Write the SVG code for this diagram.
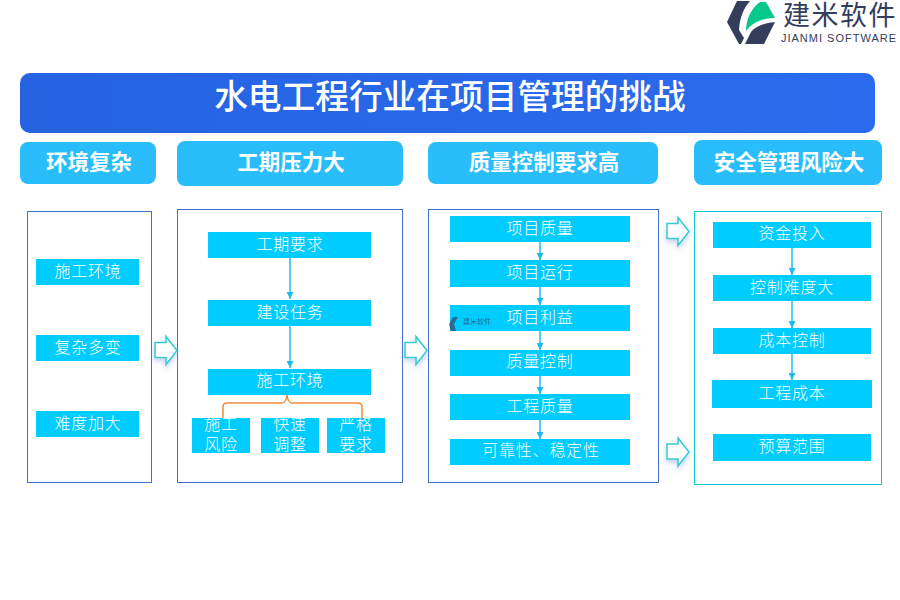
<svg xmlns="http://www.w3.org/2000/svg" width="900" height="600" viewBox="0 0 900 600">
<defs>
<linearGradient id="tg" x1="0" y1="0" x2="1" y2="0"><stop offset="0" stop-color="#2563e0"/><stop offset="1" stop-color="#2b6cee"/></linearGradient>
<filter id="sh" x="-40%" y="-40%" width="180%" height="200%"><feDropShadow dx="0" dy="3" stdDeviation="2.500" flood-color="#9fb4e0" flood-opacity="0.6"/></filter>
<marker id="ah" markerUnits="userSpaceOnUse" markerWidth="8" markerHeight="7" refX="7" refY="3.500" orient="auto"><path d="M0 0L7 3.500L0 7Z" fill="#1cbcf0"/></marker>
<path id="blk" d="M0 6H11V0L22 14L11 28V21H0Z" fill="#fff" stroke="#2fcdd2" stroke-width="1.500"/>
</defs>
<style>
text{font-family:"Noto Sans CJK SC","Liberation Sans",sans-serif;text-anchor:middle}
.b{fill:#00ccff}
.t{fill:#fff;font-size:16px;letter-spacing:.8px;font-weight:300}
.h{fill:#29bdfb}
.ht{fill:#fff;font-size:21.500px;font-weight:700}
.p{fill:#fff;stroke:#3f6fd0;stroke-width:1}
.l{stroke:#1cbcf0;stroke-width:1.500;fill:none;marker-end:url(#ah)}
</style>
<g id="logo">
<path d="M737 1H750C744 8 740 16 739 30L744 38L741 44H739L727 22Z" fill="#333d5c"/>
<path d="M745 44L751 32C756 26 765 23 775 22L764 44Z" fill="#333d5c"/>
<path d="M746 31C746 20 751 8 760 2H766L775 18C762 18 752 23 746 31Z" fill="#04c98a"/>
<text x="840" y="25" font-size="27" fill="#333d5c" letter-spacing="1.500">建米软件</text>
<text x="839" y="42" font-size="11" fill="#333d5c" letter-spacing="1" style="font-family:'Liberation Sans',sans-serif">JIANMI SOFTWARE</text>
</g>
<g id="title"><rect x="20" y="73" width="855" height="60" rx="10" fill="url(#tg)"/><text x="450" y="109" font-size="33.700" fill="#fff" font-weight="500">水电工程行业在项目管理的挑战</text></g>
<g id="head1"><rect class="h" x="20" y="142" width="136" height="42" rx="8"/><text class="ht" x="89" y="170">环境复杂</text></g>
<g id="head2"><rect class="h" x="177" y="141" width="226" height="45" rx="8"/><text class="ht" x="291" y="170">工期压力大</text></g>
<g id="head3"><rect class="h" x="428" y="142" width="230" height="42" rx="8"/><text class="ht" x="544" y="170">质量控制要求高</text></g>
<g id="head4"><rect class="h" x="694" y="140" width="188" height="45" rx="8"/><text class="ht" x="789" y="170">安全管理风险大</text></g>
<g id="panels">
<rect class="p" x="27.500" y="211.500" width="124" height="271"/>
<rect class="p" x="177.500" y="209.500" width="225" height="273"/>
<rect class="p" x="428.500" y="209.500" width="230" height="273"/>
<rect class="p" x="694.500" y="211.500" width="187" height="273" style="stroke:#12c4cc"/>
</g>
<g id="connectors">
<path class="l" d="M290 258V299"/><path class="l" d="M290 326V368"/>
<path class="l" d="M540 242V260"/><path class="l" d="M540 287V305"/><path class="l" d="M540 331V350"/><path class="l" d="M540 376V394"/><path class="l" d="M540 420V439"/>
<path class="l" d="M792 248V275"/><path class="l" d="M792 301V328"/><path class="l" d="M792 354V380"/>
<path d="M223 418V407Q223 403 227 403H282Q286 403 287 395Q288 403 292 403H358Q362 403 362 407V418" fill="none" stroke="#f08c3c" stroke-width="1.500"/>
</g>
<g id="arrows">
<use href="#blk" x="155" y="336.500" filter="url(#sh)"/><use href="#blk" x="405" y="336.500" filter="url(#sh)"/>
<use href="#blk" x="667" y="217.500" filter="url(#sh)"/><use href="#blk" x="667" y="438" filter="url(#sh)"/>
</g>
<g id="n1"><rect class="b" x="36" y="259" width="103" height="26"/><text class="t" x="88" y="277">施工环境</text></g>
<g id="n2"><rect class="b" x="36" y="335" width="103" height="26"/><text class="t" x="88" y="353">复杂多变</text></g>
<g id="n3"><rect class="b" x="36" y="411" width="103" height="26"/><text class="t" x="88" y="429">难度加大</text></g>
<g id="n4"><rect class="b" x="208" y="232" width="163" height="26"/><text class="t" x="290" y="250">工期要求</text></g>
<g id="n5"><rect class="b" x="208" y="300" width="163" height="26"/><text class="t" x="290" y="318">建设任务</text></g>
<g id="n6"><rect class="b" x="208" y="369" width="163" height="26"/><text class="t" x="290" y="386">施工环境</text></g>
<g id="n7"><rect class="b" x="192" y="418" width="58" height="35"/><text class="t" y="430"><tspan x="221">施工</tspan><tspan x="221" dy="20">风险</tspan></text></g>
<g id="n8"><rect class="b" x="261" y="418" width="58" height="35"/><text class="t" y="430"><tspan x="290">快速</tspan><tspan x="290" dy="20">调整</tspan></text></g>
<g id="n9"><rect class="b" x="327" y="418" width="58" height="35"/><text class="t" y="430"><tspan x="356">严格</tspan><tspan x="356" dy="20">要求</tspan></text></g>
<g id="n10"><rect class="b" x="450" y="216" width="180" height="26"/><text class="t" x="540" y="234">项目质量</text></g>
<g id="n11"><rect class="b" x="450" y="260" width="180" height="27"/><text class="t" x="540" y="278">项目运行</text></g>
<g id="n12"><rect class="b" x="450" y="305" width="180" height="26"/><text class="t" x="540" y="323">项目利益</text>
<path d="M453 317H458L454 324L456 331H451L449 324Z" fill="#33507a" opacity=".8"/><text x="477" y="324" font-size="7" fill="#33507a" opacity=".8">建米软件</text></g>
<g id="n13"><rect class="b" x="450" y="350" width="180" height="26"/><text class="t" x="540" y="367">质量控制</text></g>
<g id="n14"><rect class="b" x="450" y="394" width="180" height="26"/><text class="t" x="540" y="412">工程质量</text></g>
<g id="n15"><rect class="b" x="450" y="439" width="180" height="26"/><text class="t" x="541" y="456">可靠性、稳定性</text></g>
<g id="n16"><rect class="b" x="713" y="222" width="158" height="26"/><text class="t" x="792" y="239">资金投入</text></g>
<g id="n17"><rect class="b" x="713" y="275" width="158" height="26"/><text class="t" x="792" y="293">控制难度大</text></g>
<g id="n18"><rect class="b" x="713" y="328" width="158" height="26"/><text class="t" x="792" y="346">成本控制</text></g>
<g id="n19"><rect class="b" x="712" y="380" width="160" height="28"/><text class="t" x="792" y="399">工程成本</text></g>
<g id="n20"><rect class="b" x="713" y="434" width="158" height="27"/><text class="t" x="792" y="452">预算范围</text></g>
</svg>
